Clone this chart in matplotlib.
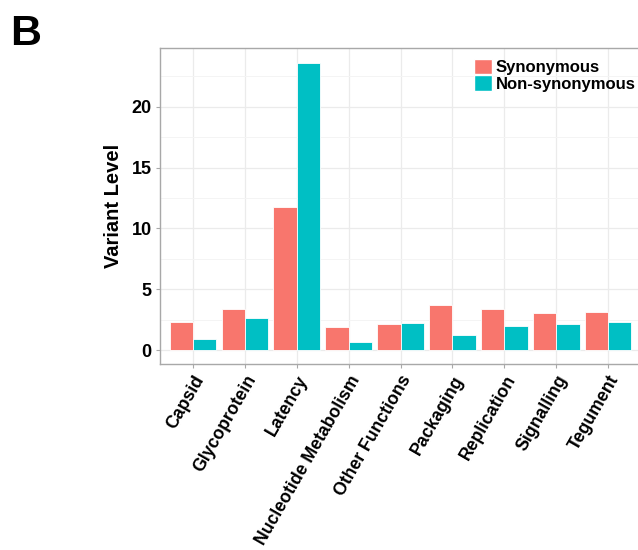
import numpy as np
import matplotlib
matplotlib.use("Agg")
import matplotlib.pyplot as plt
from matplotlib.patches import Patch

plt.rcParams["font.family"] = ["Liberation Sans", "DejaVu Sans"]

categories = ["Capsid", "Glycoprotein", "Latency", "Nucleotide Metabolism",
              "Other Functions", "Packaging", "Replication", "Signalling", "Tegument"]
synonymous = [2.27, 3.40, 11.75, 1.89, 2.16, 3.70, 3.40, 3.04, 3.10]
non_synonymous = [0.93, 2.68, 23.56, 0.66, 2.22, 1.26, 1.95, 2.11, 2.33]

SYN_COL = "#F8766D"
NON_COL = "#00BFC4"
GRID = "#EBEBEB"
AXIS = "#A8A8A8"

fig = plt.figure(figsize=(6.38, 5.5), dpi=100)
ax = fig.add_axes([0.2508, 0.338, 0.754, 0.5747])

x = np.arange(1, len(categories) + 1)
w = 0.45
ax.bar(x - w / 2, synonymous, width=w, color=SYN_COL, edgecolor="white", linewidth=0.6, zorder=3)
ax.bar(x + w / 2, non_synonymous, width=w, color=NON_COL, edgecolor="white", linewidth=0.6, zorder=3)

ax.set_xlim(0.365, 9.635)
ax.set_ylim(-1.15, 24.83)

ax.set_yticks([0, 5, 10, 15, 20])
ax.set_yticks([2.5, 7.5, 12.5, 17.5, 22.5], minor=True)
ax.set_xticks(x)
ax.set_xticklabels(categories, rotation=60, ha="right", rotation_mode="anchor",
                   fontsize=12.7, fontweight="bold")
for lbl in ax.get_yticklabels():
    lbl.set_fontsize(13)
    lbl.set_fontweight("bold")

ax.grid(True, which="major", color=GRID, linewidth=0.9, zorder=0)
ax.grid(True, which="minor", axis="y", color="#F4F4F4", linewidth=0.7, zorder=0)
ax.tick_params(axis="both", which="major", length=3, color=AXIS, pad=3)
ax.tick_params(axis="y", which="minor", length=0)

for side in ["left", "bottom", "top", "right"]:
    ax.spines[side].set_color(AXIS)
    ax.spines[side].set_linewidth(1.0)

ax.set_ylabel("Variant Level", fontsize=14.5, fontweight="bold", labelpad=6)

handles = [Patch(facecolor=SYN_COL, edgecolor="white"),
           Patch(facecolor=NON_COL, edgecolor="white")]
fig.legend(handles, ["Synonymous", "Non-synonymous"], loc="upper left",
           bbox_to_anchor=(474 / 638, 1 - 59 / 550), frameon=False,
           prop={"size": 12, "weight": "bold"}, handlelength=1.05, handleheight=1.05,
           handletextpad=0.25, labelspacing=0.0, borderpad=0, borderaxespad=0)

fig.text(10 / 638, 1 - 45 / 550, "B", fontsize=31, fontweight="bold")

fig.savefig("out.png", dpi=100)
